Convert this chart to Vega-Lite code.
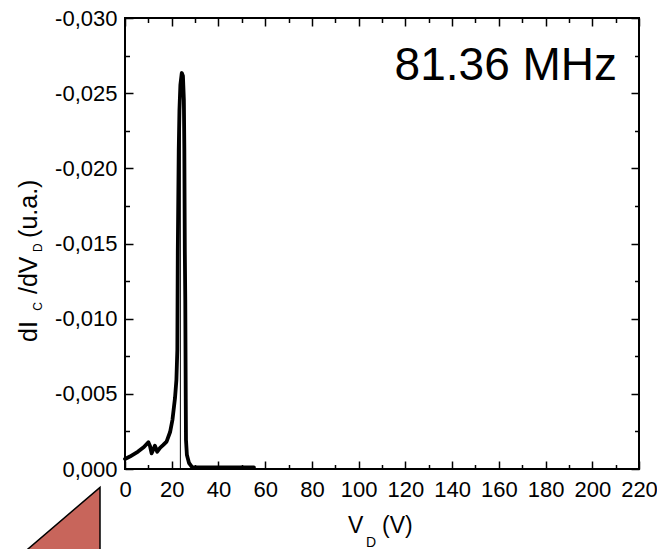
{
  "$schema": "https://vega.github.io/schema/vega-lite/v6.json",
  "width": 514,
  "height": 451,
  "autosize": "none",
  "padding": {"left": 125, "top": 18, "right": 18, "bottom": 80},
  "background": "white",
  "config": {
    "view": {"stroke": "black", "strokeWidth": 2},
    "axis": {"domain": false, "grid": false, "labelFont": "Liberation Sans", "labelColor": "black", "tickColor": "black", "tickWidth": 1.5, "title": null}
  },
  "datasets": {
    "curve": [
      {"v": 0.0, "d": -0.00067}, {"v": 2.1, "d": -0.00083}, {"v": 5.6, "d": -0.00116}, {"v": 8.1, "d": -0.00146},
      {"v": 10.0, "d": -0.00178}, {"v": 10.7, "d": -0.00153}, {"v": 11.4, "d": -0.00104}, {"v": 12.2, "d": -0.00133},
      {"v": 12.8, "d": -0.00155}, {"v": 13.8, "d": -0.00115}, {"v": 15.0, "d": -0.0014}, {"v": 16.4, "d": -0.0016},
      {"v": 17.8, "d": -0.00182}, {"v": 19.3, "d": -0.00246}, {"v": 20.3, "d": -0.00326}, {"v": 20.8, "d": -0.00392},
      {"v": 21.4, "d": -0.00472}, {"v": 22.0, "d": -0.00592}, {"v": 22.4, "d": -0.00792}, {"v": 22.5, "d": -0.01124},
      {"v": 22.6, "d": -0.01457}, {"v": 22.8, "d": -0.0179}, {"v": 23.0, "d": -0.02122}, {"v": 23.3, "d": -0.02388},
      {"v": 23.7, "d": -0.02554}, {"v": 24.3, "d": -0.02634}, {"v": 24.8, "d": -0.02614}, {"v": 25.2, "d": -0.02455},
      {"v": 25.4, "d": -0.02122}, {"v": 25.5, "d": -0.0179}, {"v": 25.6, "d": -0.01457}, {"v": 25.8, "d": -0.01124},
      {"v": 25.9, "d": -0.00792}, {"v": 26.0, "d": -0.00459}, {"v": 26.1, "d": -0.00193}, {"v": 26.5, "d": -0.00093},
      {"v": 27.4, "d": -0.0004}, {"v": 28.7, "d": -0.00013}, {"v": 32.1, "d": -0.00011}, {"v": 40.7, "d": -0.0001},
      {"v": 49.2, "d": -0.0001}, {"v": 55.2, "d": -0.0001}
    ],
    "drop": [{"v": 23.7, "lo": 0, "hi": -0.025}],
    "tri": [{"v": -47.0, "top": 0.00605, "base": 0.00605}, {"v": -10.7, "top": 0.00122, "base": 0.00605}],
    "ytitle": [{"t": "dI", "x": -37.66, "y": -0.00845}, {"t": "/dV", "x": -37.66, "y": -0.01164}, {"t": "(u.a.)", "x": -37.66, "y": -0.01537}],
    "ysub": [{"t": "C", "x": -35.6, "y": -0.01052}, {"t": "D", "x": -35.6, "y": -0.01444}],
    "xtitle": [{"t": "V", "x": 95.4, "y": 0.00426}, {"t": "(V)", "x": 110.0, "y": 0.00426}],
    "xsub": [{"t": "D", "x": 103.2, "y": 0.00519}],
    "note": [{"t": "81.36 MHz", "x": 163.0, "y": -0.02588}]
  },
  "resolve": {"axis": {"x": "independent", "y": "independent"}},
  "layer": [
    {
      "data": {"name": "tri"},
      "mark": {"type": "area", "fill": "#C8655B", "stroke": "black", "strokeWidth": 1.5, "clip": false},
      "encoding": {
        "x": {"field": "v", "type": "quantitative", "scale": {"domain": [0, 220], "nice": false, "zero": false},
              "axis": {"orient": "bottom", "values": [0, 20, 40, 60, 80, 100, 120, 140, 160, 180, 200, 220], "ticks": false, "labels": true, "labelFontSize": 22, "labelPadding": 10, "labelFlush": false, "labelOverlap": false, "labelBound": false}},
        "y": {"field": "top", "type": "quantitative", "scale": {"domain": [0, -0.03], "nice": false, "zero": false},
              "axis": {"orient": "left", "values": [0, -0.005, -0.01, -0.015, -0.02, -0.025, -0.03], "ticks": false, "labels": true, "labelFontSize": 22, "labelPadding": 8, "labelFlush": false, "labelOverlap": false, "labelBound": false,
                       "labelExpr": "(datum.value < 0 ? '-' : '') + replace(format(abs(datum.value), '.3f'), '.', ',')"}},
        "y2": {"field": "base"}
      }
    },
    {
      "data": {"name": "curve"},
      "mark": {"type": "line", "color": "black", "strokeWidth": 3.8, "strokeJoin": "round", "strokeCap": "round"},
      "encoding": {
        "x": {"field": "v", "type": "quantitative", "scale": {"domain": [0, 220], "nice": false, "zero": false},
              "axis": {"orient": "bottom", "values": [0, 20, 40, 60, 80, 100, 120, 140, 160, 180, 200, 220], "labels": false, "tickSize": -8}},
        "y": {"field": "d", "type": "quantitative", "scale": {"domain": [0, -0.03], "nice": false, "zero": false},
              "axis": {"orient": "left", "values": [0, -0.005, -0.01, -0.015, -0.02, -0.025, -0.03], "labels": false, "tickSize": -8}}
      }
    },
    {
      "data": {"name": "drop"},
      "mark": {"type": "rule", "color": "black", "strokeWidth": 1},
      "encoding": {
        "x": {"field": "v", "type": "quantitative", "scale": {"domain": [0, 220], "nice": false, "zero": false},
              "axis": {"orient": "bottom", "values": [10, 30, 50, 70, 90, 110, 130, 150, 170, 190, 210], "labels": false, "tickSize": -4.5}},
        "y": {"field": "lo", "type": "quantitative", "scale": {"domain": [0, -0.03], "nice": false, "zero": false},
              "axis": {"orient": "left", "values": [-0.0025, -0.0075, -0.0125, -0.0175, -0.0225, -0.0275], "labels": false, "tickSize": -4.5}},
        "y2": {"field": "hi"}
      }
    },
    {
      "data": {"name": "ytitle"},
      "mark": {"type": "text", "angle": 270, "align": "left", "baseline": "alphabetic", "font": "Liberation Sans", "fontSize": 25, "color": "black"},
      "encoding": {
        "x": {"field": "x", "type": "quantitative", "scale": {"domain": [0, 220], "nice": false, "zero": false},
              "axis": {"orient": "top", "values": [0, 20, 40, 60, 80, 100, 120, 140, 160, 180, 200, 220], "labels": false, "tickSize": -8}},
        "y": {"field": "y", "type": "quantitative", "scale": {"domain": [0, -0.03], "nice": false, "zero": false},
              "axis": {"orient": "right", "values": [0, -0.005, -0.01, -0.015, -0.02, -0.025, -0.03], "labels": false, "tickSize": -8}},
        "text": {"field": "t"}
      }
    },
    {
      "data": {"name": "ysub"},
      "mark": {"type": "text", "angle": 270, "align": "left", "baseline": "alphabetic", "font": "Liberation Sans", "fontSize": 12, "color": "black"},
      "encoding": {
        "x": {"field": "x", "type": "quantitative", "scale": {"domain": [0, 220], "nice": false, "zero": false},
              "axis": {"orient": "top", "values": [10, 30, 50, 70, 90, 110, 130, 150, 170, 190, 210], "labels": false, "tickSize": -4.5}},
        "y": {"field": "y", "type": "quantitative", "scale": {"domain": [0, -0.03], "nice": false, "zero": false},
              "axis": {"orient": "right", "values": [-0.0025, -0.0075, -0.0125, -0.0175, -0.0225, -0.0275], "labels": false, "tickSize": -4.5}},
        "text": {"field": "t"}
      }
    },
    {
      "data": {"name": "xtitle"},
      "mark": {"type": "text", "align": "left", "baseline": "alphabetic", "font": "Liberation Sans", "fontSize": 23, "color": "black"},
      "encoding": {
        "x": {"field": "x", "type": "quantitative", "scale": {"domain": [0, 220], "nice": false, "zero": false}, "axis": null},
        "y": {"field": "y", "type": "quantitative", "scale": {"domain": [0, -0.03], "nice": false, "zero": false}, "axis": null},
        "text": {"field": "t"}
      }
    },
    {
      "data": {"name": "xsub"},
      "mark": {"type": "text", "align": "left", "baseline": "alphabetic", "font": "Liberation Sans", "fontSize": 14, "color": "black"},
      "encoding": {
        "x": {"field": "x", "type": "quantitative", "scale": {"domain": [0, 220], "nice": false, "zero": false}, "axis": null},
        "y": {"field": "y", "type": "quantitative", "scale": {"domain": [0, -0.03], "nice": false, "zero": false}, "axis": null},
        "text": {"field": "t"}
      }
    },
    {
      "data": {"name": "note"},
      "mark": {"type": "text", "align": "center", "baseline": "alphabetic", "font": "Liberation Sans", "fontSize": 46, "color": "black"},
      "encoding": {
        "x": {"field": "x", "type": "quantitative", "scale": {"domain": [0, 220], "nice": false, "zero": false}, "axis": null},
        "y": {"field": "y", "type": "quantitative", "scale": {"domain": [0, -0.03], "nice": false, "zero": false}, "axis": null},
        "text": {"field": "t"}
      }
    }
  ]
}
